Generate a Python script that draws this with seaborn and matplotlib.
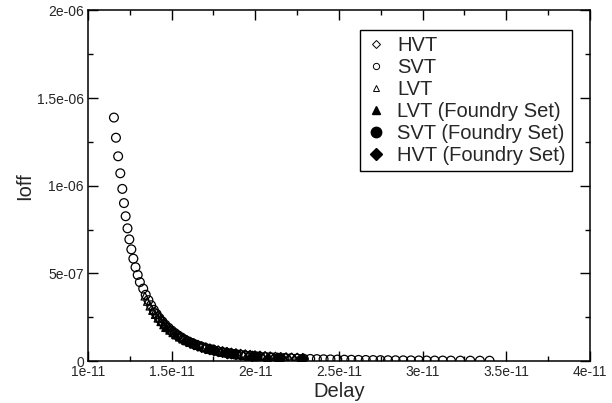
import numpy as np
import pandas as pd
import matplotlib
matplotlib.use('Agg')
import matplotlib.pyplot as plt
from matplotlib.lines import Line2D
from matplotlib.ticker import MultipleLocator, FixedLocator, FixedFormatter
import seaborn as sns

# delay in units of 1e-11 s, Ioff in units of 1e-6 A
svt_delay = [1.155, 1.167, 1.180, 1.193, 1.205, 1.215, 1.225, 1.236, 1.247, 1.259,
             1.271, 1.284, 1.297, 1.310, 1.330, 1.345, 1.361, 1.377, 1.393, 1.410,
             1.427, 1.445, 1.463, 1.482, 1.501, 1.520, 1.539, 1.559, 1.579, 1.599,
             1.620, 1.641, 1.662, 1.684, 1.706, 1.728, 1.751, 1.774, 1.797, 1.820,
             1.844, 1.868, 1.892, 1.917, 1.942, 1.967, 1.993, 2.028, 2.064, 2.100,
             2.137, 2.174, 2.212, 2.250, 2.289, 2.328, 2.368, 2.408, 2.449, 2.490,
             2.532, 2.574, 2.617, 2.660, 2.704, 2.748, 2.793, 2.838, 2.884, 2.930,
             2.977, 3.024, 3.072, 3.120, 3.169, 3.225, 3.285, 3.342, 3.400]
svt_ioff = [1.389, 1.274, 1.168, 1.071, 0.982, 0.901, 0.826, 0.757, 0.694, 0.637,
            0.584, 0.535, 0.491, 0.450, 0.413, 0.378, 0.347, 0.318, 0.292, 0.268,
            0.245, 0.225, 0.206, 0.189, 0.173, 0.159, 0.146, 0.134, 0.122, 0.112,
            0.103, 0.0944, 0.0866, 0.0794, 0.0728, 0.0668, 0.0612, 0.0561, 0.0515, 0.0472,
            0.0433, 0.0397, 0.0364, 0.0334, 0.0306, 0.0281, 0.0257, 0.0236, 0.0216, 0.0198,
            0.0182, 0.0167, 0.0153, 0.0140, 0.0129, 0.0118, 0.0108, 0.0099, 0.0091, 0.0083,
            0.0076, 0.0070, 0.0064, 0.0059, 0.0054, 0.0050, 0.0045, 0.0042, 0.0038, 0.0035,
            0.0032, 0.0029, 0.0027, 0.0025, 0.0023, 0.0021, 0.0019, 0.0017, 0.0016]

lvt_delay = [1.340, 1.355, 1.370, 1.386, 1.402, 1.418, 1.435, 1.452, 1.470, 1.488,
             1.507, 1.526, 1.546, 1.566, 1.587, 1.608, 1.630, 1.652, 1.675, 1.698,
             1.722, 1.746, 1.771, 1.796, 1.822, 1.848, 1.875, 1.902, 1.930, 1.958,
             1.987, 2.016, 2.046, 2.076, 2.107, 2.138, 2.170, 2.202, 2.235, 2.268]
lvt_ioff = [0.370, 0.340, 0.313, 0.288, 0.265, 0.244, 0.224, 0.206, 0.190, 0.175,
            0.161, 0.148, 0.136, 0.125, 0.115, 0.106, 0.0974, 0.0896, 0.0825, 0.0759,
            0.0698, 0.0642, 0.0591, 0.0543, 0.0500, 0.0460, 0.0423, 0.0389, 0.0358, 0.0329,
            0.0303, 0.0279, 0.0257, 0.0236, 0.0217, 0.0200, 0.0184, 0.0169, 0.0156, 0.0143]

hvt_delay = [1.400, 1.417, 1.434, 1.452, 1.470, 1.489, 1.508, 1.528, 1.548, 1.569,
             1.590, 1.612, 1.634, 1.657, 1.680, 1.704, 1.728, 1.753, 1.778, 1.804,
             1.830, 1.857, 1.884, 1.912, 1.940, 1.969, 1.998, 2.028, 2.058, 2.089,
             2.120, 2.152, 2.184, 2.217, 2.250, 2.284]
hvt_ioff = [0.275, 0.252, 0.230, 0.211, 0.193, 0.176, 0.161, 0.148, 0.135, 0.124,
            0.113, 0.104, 0.0950, 0.0869, 0.0795, 0.0728, 0.0666, 0.0609, 0.0557, 0.0510,
            0.0467, 0.0427, 0.0391, 0.0358, 0.0327, 0.0299, 0.0274, 0.0251, 0.0229, 0.0210,
            0.0192, 0.0176, 0.0161, 0.0147, 0.0135, 0.0123]

lvt_f_delay = [1.46, 1.52, 1.58, 1.65, 1.72, 1.80, 1.88, 1.97, 2.07]
lvt_f_ioff = [0.195, 0.155, 0.122, 0.094, 0.071, 0.052, 0.039, 0.029, 0.021]
svt_f_delay = [1.62, 1.74, 1.87, 2.01, 2.15, 2.27]
svt_f_ioff = [0.100, 0.066, 0.042, 0.026, 0.017, 0.012]
hvt_f_delay = [1.83, 1.98, 2.13, 2.28]
hvt_f_ioff = [0.046, 0.028, 0.018, 0.012]

xticks = [1e-11, 1.5e-11, 2e-11, 2.5e-11, 3e-11, 3.5e-11, 4e-11]
xticklabels = ['1e-11', '1.5e-11', '2e-11', '2.5e-11', '3e-11', '3.5e-11', '4e-11']
yticks = [0, 5e-7, 1e-6, 1.5e-6, 2e-6]
yticklabels = ['0', '5e-07', '1e-06', '1.5e-06', '2e-06']

sets = [
    ('HVT', hvt_delay, hvt_ioff, 'D', False),
    ('SVT', svt_delay, svt_ioff, 'o', False),
    ('LVT', lvt_delay, lvt_ioff, '^', False),
    ('LVT (Foundry Set)', lvt_f_delay, lvt_f_ioff, '^', True),
    ('SVT (Foundry Set)', svt_f_delay, svt_f_ioff, 'o', True),
    ('HVT (Foundry Set)', hvt_f_delay, hvt_f_ioff, 'D', True),
]

sns.set_style('ticks')
plt.rcParams['font.family'] = ['Liberation Sans', 'DejaVu Sans']

fig, ax = plt.subplots(figsize=(6.12, 4.03), dpi=100)
fig.subplots_adjust(left=0.1438, right=0.964, bottom=0.1042, top=0.974)

handles = []
for name, dx, dy, mk, filled in sets:
    df = pd.DataFrame({'Delay': np.array(dx) * 1e-11, 'Ioff': np.array(dy) * 1e-6})
    size = 40 if mk == 'o' else 30
    if filled:
        sns.scatterplot(data=df, x='Delay', y='Ioff', marker=mk, s=size,
                        color='black', edgecolor='black', linewidth=0.8, ax=ax, zorder=3)
        handles.append(Line2D([], [], ls='none', marker=mk, color='black',
                              markersize=7.5 if mk == 'o' else 6))
    else:
        sns.scatterplot(data=df, x='Delay', y='Ioff', marker=mk, s=size,
                        facecolor='none', edgecolor='black', linewidth=0.9, ax=ax, zorder=2)
        handles.append(Line2D([], [], ls='none', marker=mk, markerfacecolor='none',
                              markeredgecolor='black', markeredgewidth=0.7,
                              markersize=4.5 if mk == 'o' else 3.8))

ax.set_xlim(1e-11, 4e-11)
ax.set_ylim(0, 2e-6)
ax.xaxis.set_major_locator(FixedLocator(xticks))
ax.xaxis.set_major_formatter(FixedFormatter(xticklabels))
ax.yaxis.set_major_locator(FixedLocator(yticks))
ax.yaxis.set_major_formatter(FixedFormatter(yticklabels))
ax.xaxis.set_minor_locator(MultipleLocator(2.5e-12))
ax.yaxis.set_minor_locator(MultipleLocator(2.5e-7))
ax.tick_params(which='both', direction='in', top=True, right=True, width=1, color='black')
ax.tick_params(which='major', length=7, labelsize=10, pad=3)
ax.tick_params(which='minor', length=3.6)
for sp in ax.spines.values():
    sp.set_linewidth(1.1)
    sp.set_color('black')

ax.set_xlabel('Delay', fontsize=14.5, labelpad=2)
ax.set_ylabel('Ioff', fontsize=14.5, labelpad=2)

leg = ax.legend(handles, [s[0] for s in sets], loc='upper right',
                bbox_to_anchor=(0.964, 0.943), borderaxespad=0, fontsize=14.5,
                frameon=True, fancybox=False, framealpha=1, edgecolor='black',
                labelspacing=0.14, borderpad=0.3, handlelength=1.0,
                handletextpad=0.55)
leg.get_frame().set_linewidth(1.0)

fig.savefig('out.png', dpi=100)
